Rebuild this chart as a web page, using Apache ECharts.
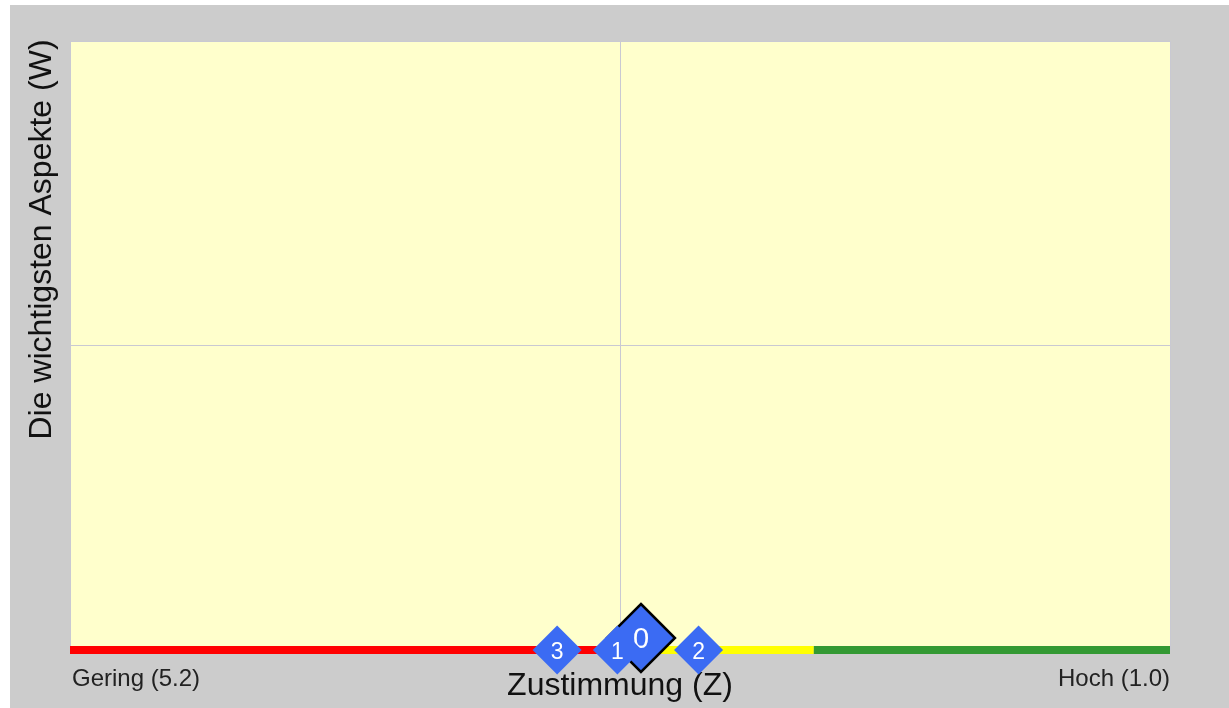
<!DOCTYPE html>
<html>
<head>
<meta charset="utf-8">
<script src="https://cdn.jsdelivr.net/npm/echarts@6/dist/echarts.min.js"></script>
<style>
  html, body { margin: 0; padding: 0; background: #fff; }
  .main { position: absolute; left: 10px; top: 5px; width: 1219px; height: 703px; background: #cccccc; }
</style>
</head>
<body>
<div class="main"></div>
<script>
// points: label, Z value (x), W value (y)
var pointNames = ['3', '1', '2'];
var pointZ = [3.34, 3.11, 2.80];
var pointW = [0, 0, 0];

// highlighted point
var focusName = '0';
var focusZ = 3.02;
var focusW = 0;

// axis range and coloured bands along the Z axis
var zMin = 1.0, zMax = 5.2;
var tickValues = [1.0, 5.2];
var tickLabels = ['Hoch (1.0)', 'Gering (5.2)'];
var bandEdges = [5.2, 3.0, 2.36, 1.0];
var bandColors = ['#ff0000', '#ffff00', '#339933'];

var myChart = echarts.init(document.querySelector('.main'));

var pts = [];
for (var i = 0; i < pointNames.length; i++) {
  pts.push({ name: pointNames[i], value: [pointZ[i], pointW[i]] });
}

var series = [];
for (var b = 0; b < bandColors.length; b++) {
  series.push({
    type: 'line',
    data: [[bandEdges[b], 0], [bandEdges[b + 1], 0]],
    symbol: 'none',
    clip: false,
    silent: true,
    z: 2,
    lineStyle: { color: bandColors[b], width: 8 }
  });
}

series.push({
  type: 'scatter',
  data: [{ name: focusName, value: [focusZ, focusW] }],
  symbol: 'diamond',
  symbolSize: 68,
  symbolOffset: [0, -12],
  clip: false,
  z: 3,
  itemStyle: { color: '#3b6bf3', borderColor: '#000', borderWidth: 2.5, opacity: 1 },
  label: {
    show: true, position: 'inside', formatter: '{b}',
    color: '#fff', fontSize: 29, offset: [0, 2]
  }
});

series.push({
  type: 'scatter',
  data: pts,
  symbol: 'diamond',
  symbolSize: 49,
  clip: false,
  z: 4,
  itemStyle: { color: '#3b6bf3', opacity: 1 },
  label: {
    show: true, position: 'inside', formatter: '{b}',
    color: '#fff', fontSize: 23, offset: [0, 3]
  }
});

var option = {
  animation: false,
  textStyle: { fontFamily: 'Liberation Sans, Arial, sans-serif' },
  grid: {
    left: 60, right: 59, top: 36, bottom: 58,
    outerBoundsMode: 'none',
    containLabel: false,
    show: true, backgroundColor: '#ffffcc', borderWidth: 0
  },
  xAxis: [{
    type: 'value',
    min: zMin, max: zMax,
    inverse: true,
    name: 'Zustimmung (Z)',
    nameLocation: 'middle',
    nameGap: 20,
    nameMoveOverlap: false,
    nameTextStyle: { fontSize: 32, color: '#111' },
    axisLine: { show: false },
    axisTick: { show: false },
    splitLine: { show: false },
    axisLabel: {
      customValues: tickValues,
      margin: 17,
      fontSize: 24,
      color: '#222',
      alignMinLabel: 'right',
      alignMaxLabel: 'left',
      padding: [0, 0, 0, 2],
      formatter: function (v) {
        for (var k = 0; k < tickValues.length; k++) {
          if (Math.abs(v - tickValues[k]) < 1e-6) return tickLabels[k];
        }
        return '';
      }
    }
  }, {
    // only used for the middle split line
    type: 'value',
    min: 0, max: 2, interval: 1,
    position: 'bottom',
    axisLine: { show: false },
    axisTick: { show: false },
    axisLabel: { show: false },
    splitLine: { show: true, lineStyle: { color: '#c9c9d2', width: 1 } }
  }],
  yAxis: {
    type: 'value',
    min: 0, max: 2, interval: 1,
    name: 'Die wichtigsten Aspekte (W)',
    nameLocation: 'middle',
    nameGap: 12,
    nameTextStyle: { fontSize: 32, color: '#111', padding: [0, 0, 0, 212] },
    axisLine: { show: false },
    axisTick: { show: false },
    axisLabel: { show: false },
    splitLine: { show: true, lineStyle: { color: '#c9c9d2', width: 1 } }
  },
  series: series
};

myChart.setOption(option);
</script>
</body>
</html>
